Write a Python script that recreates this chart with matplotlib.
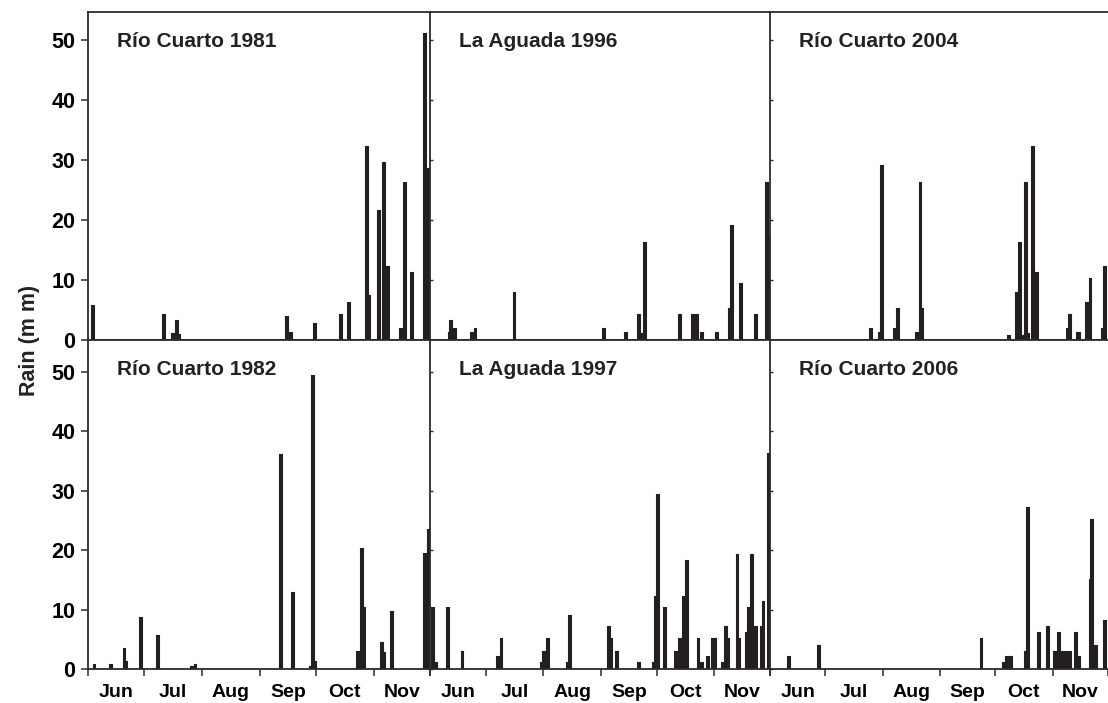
import numpy as np
import matplotlib
matplotlib.use("Agg")
import matplotlib.pyplot as plt


# Arial-like bold font for all text
plt.rcParams["font.family"] = ["Liberation Sans", "DejaVu Sans"]
plt.rcParams["font.weight"] = "bold"

BAR_COLOR = "#231f20"
LINE_COLOR = "#2b2b2b"

MONTHS = ["Jun", "Jul", "Aug", "Sep", "Oct", "Nov"]
MONTH_DAYS = [30, 31, 31, 30, 31, 30]
Y_TICKS = [0, 10, 20, 30, 40, 50]

# daily rain (mm), day 0 = 1 June
rc1981_days = [2, 40, 45, 47, 48, 106, 108, 121, 135, 139, 149, 150, 155, 158, 160,
               167, 169, 173, 180, 182]
rc1981_mm = [5.7, 4.2, 1.0, 3.2, 0.8, 3.9, 1.1, 2.7, 4.2, 6.1, 32.2, 7.3, 21.5, 29.6, 12.1,
             1.9, 26.2, 11.1, 51.1, 28.6]

la1996_days = [10, 11, 13, 22, 24, 45, 93, 105, 112, 114, 115, 134, 141, 143, 146,
               154, 161, 162, 167, 175, 181, 182]
la1996_mm = [1.1, 3.2, 1.9, 1.1, 1.9, 7.9, 1.9, 1.1, 4.2, 1.0, 16.1, 4.2, 4.2, 4.2, 1.1,
             1.1, 5.1, 19.0, 9.3, 4.2, 26.2, 17.0]

rc2004_days = [54, 59, 60, 67, 69, 79, 81, 82, 129, 133, 135, 136, 138, 139, 142, 144,
               161, 162, 166, 167, 171, 173, 180, 181]
rc2004_mm = [1.9, 1.1, 29.1, 1.9, 5.1, 1.1, 26.2, 5.1, 0.7, 7.9, 16.1, 0.7, 26.2, 1.0, 32.2, 11.1,
             1.9, 4.2, 1.1, 1.1, 6.1, 10.2, 1.9, 12.1]

rc1982_days = [3, 12, 19, 20, 28, 37, 55, 57, 103, 109, 119, 120, 121, 144, 146, 147,
               157, 158, 162, 180, 182]
rc1982_mm = [0.7, 0.7, 3.3, 1.1, 8.5, 5.5, 0.4, 0.7, 35.9, 12.7, 0.4, 49.2, 1.1, 2.9, 20.1, 10.2,
             4.3, 2.7, 9.5, 19.4, 23.4]

la1997_days = [1, 3, 9, 17, 36, 38, 60, 61, 63, 74, 75, 96, 97, 100, 112, 120, 121, 122,
               126, 132, 134, 136, 138, 144, 146, 149, 152, 153, 157, 159, 160, 165, 166,
               170, 171, 173, 175, 178, 179, 182]
la1997_mm = [10.3, 1.0, 10.3, 2.9, 2.0, 5.1, 1.0, 2.9, 5.1, 1.0, 8.9, 7.0, 5.1, 2.9, 1.0, 1.0, 12.1, 29.3,
             10.2, 2.9, 5.1, 12.1, 18.1, 5.1, 1.0, 2.0, 5.1, 5.1, 1.0, 7.0, 5.1, 19.1, 5.1,
             6.1, 10.2, 19.1, 7.0, 7.0, 11.2, 36.1]

rc2006_days = [10, 26, 114, 126, 128, 130, 138, 139, 145, 150, 154, 156, 158, 160, 162,
               165, 167, 173, 174, 176, 181]
rc2006_mm = [2.0, 3.9, 5.1, 1.0, 2.0, 2.0, 2.9, 27.0, 6.1, 7.1, 2.9, 6.1, 2.9, 2.9, 2.9,
             6.1, 2.0, 15.0, 25.1, 3.9, 8.0]

TOP_TITLES = ["Río Cuarto 1981", "La Aguada 1996", "Río Cuarto 2004"]
BOTTOM_TITLES = ["Río Cuarto 1982", "La Aguada 1997", "Río Cuarto 2006"]


def px_axes(left, top, right, bottom, w=1108, h=703):
    """
    把像素坐标转换为 figure 比例坐标
    """
    return [left / w, 1 - bottom / h, (right - left) / w, (bottom - top) / h]


def plot_panel(ax, days, rain, title, col, bottom_row, ylim_top):
    n_days = sum(MONTH_DAYS)
    ax.bar(days, rain, width=1.0, align="edge", color=BAR_COLOR,
           edgecolor=BAR_COLOR, linewidth=1.5)
    ax.set_xlim(0, n_days)
    ax.set_ylim(0, ylim_top)

    for side in ["left", "bottom", "top"]:
        ax.spines[side].set_color(LINE_COLOR)
        ax.spines[side].set_linewidth(1.3)
    ax.spines["right"].set_visible(False)

    ax.text(0.085, 0.909, title, transform=ax.transAxes, fontsize=15,
            fontweight="bold", va="center", ha="left", color="#222222")

    # y axis
    ax.set_yticks(Y_TICKS)
    if col == 0:
        ax.tick_params(axis="y", direction="out", length=5, width=1.1,
                       color=LINE_COLOR, labelsize=15.5, pad=4)
    else:
        ax.tick_params(axis="y", direction="in", length=2.5, width=1.0,
                       color=LINE_COLOR, labelleft=False)

    # x axis
    if bottom_row:
        edges = np.cumsum([0] + MONTH_DAYS)
        mids = (edges[:-1] + edges[1:]) / 2
        ax.set_xticks(edges)
        ax.set_xticklabels([])
        ax.set_xticks(mids, minor=True)
        ax.set_xticklabels(MONTHS, minor=True)
        ax.tick_params(axis="x", which="major", direction="out", length=5,
                       width=1.1, color=LINE_COLOR)
        ax.tick_params(axis="x", which="minor", length=0, labelsize=14, pad=11)
    else:
        ax.set_xticks(np.linspace(0, n_days, 10)[1:-1])
        ax.set_xticklabels([])
        ax.tick_params(axis="x", direction="out", length=3, width=1.0,
                       color=LINE_COLOR)


def main():
    fig = plt.figure(figsize=(11.08, 7.03), dpi=100)

    col_edges = [(88, 430), (430, 770), (770, 1108)]
    top_data = [(rc1981_days, rc1981_mm), (la1996_days, la1996_mm), (rc2004_days, rc2004_mm)]
    bottom_data = [(rc1982_days, rc1982_mm), (la1997_days, la1997_mm), (rc2006_days, rc2006_mm)]

    for col, (l, r) in enumerate(col_edges):
        ax = fig.add_axes(px_axes(l, 12, r, 340))
        days, rain = top_data[col]
        plot_panel(ax, days, rain, TOP_TITLES[col], col, False, 54.7)

    for col, (l, r) in enumerate(col_edges):
        ax = fig.add_axes(px_axes(l, 340, r, 669))
        days, rain = bottom_data[col]
        plot_panel(ax, days, rain, BOTTOM_TITLES[col], col, True, 55.3)

    fig.text(30 / 1108, 1 - 340 / 703, "Rain (m m)", rotation=90, ha="center",
             va="center", fontsize=15.5, fontweight="bold", color="#222222")

    fig.savefig("out.png", dpi=100)
    plt.close(fig)


if __name__ == "__main__":
    main()
